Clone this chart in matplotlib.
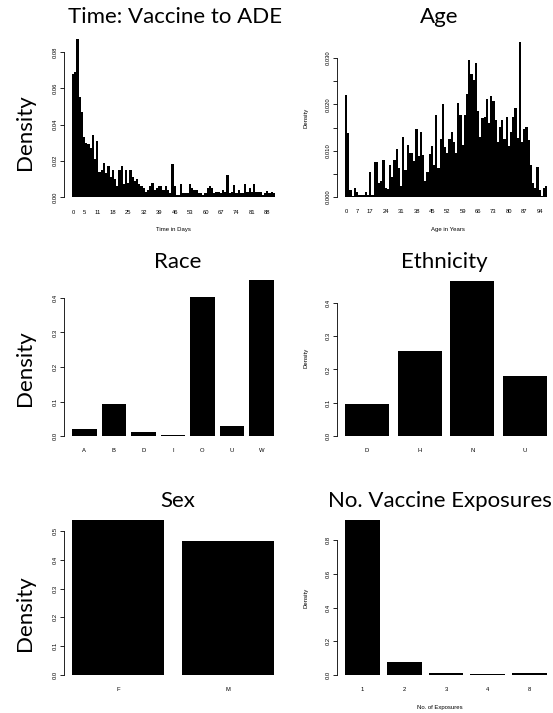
import matplotlib
matplotlib.use("Agg")
import matplotlib.pyplot as plt
import numpy as np

# ---- data ----
days = list(range(92))
time_density = [
    0.068, 0.069, 0.087, 0.055, 0.047, 0.033, 0.030, 0.029, 0.027, 0.034,
    0.021, 0.031, 0.014, 0.015, 0.019, 0.013, 0.017, 0.011, 0.015, 0.010,
    0.006, 0.015, 0.017, 0.007, 0.015, 0.008, 0.015, 0.011, 0.009, 0.010,
    0.007, 0.006, 0.005, 0.003, 0.004, 0.006, 0.008, 0.004, 0.005, 0.006,
    0.006, 0.004, 0.006, 0.004, 0.002, 0.018, 0.006, 0.001, 0.001, 0.007,
    0.002, 0.002, 0.002, 0.007, 0.005, 0.004, 0.004, 0.002, 0.002, 0.001,
    0.002, 0.005, 0.006, 0.005, 0.002, 0.003, 0.003, 0.002, 0.004, 0.003,
    0.012, 0.002, 0.003, 0.0065, 0.002, 0.004, 0.002, 0.002, 0.007, 0.003,
    0.005, 0.003, 0.007, 0.003, 0.003, 0.003, 0.001, 0.002, 0.0035, 0.002,
    0.003, 0.002,
]
time_labels = [0, 5, 11, 18, 25, 32, 39, 46, 53, 60, 67, 74, 81, 88]

ages = [0, 1, 2, 4, 5, 7, 9, 11, 13, 14, 16] + list(range(17, 98))
age_density = [
    0.022, 0.0138, 0.0015, 0.0003, 0.002, 0.001, 0.0005, 0.0005, 0.0005, 0.001,
    0.0005, 0.0053, 0.0005, 0.0075, 0.0075, 0.003, 0.0035, 0.008, 0.002, 0.0018,
    0.007, 0.0043, 0.008, 0.0103, 0.0062, 0.0023, 0.013, 0.0058, 0.0113, 0.0095,
    0.0095, 0.0078, 0.0147, 0.0088, 0.014, 0.009, 0.0035, 0.0053, 0.0093, 0.011,
    0.0068, 0.0178, 0.0063, 0.0125, 0.020, 0.0107, 0.0095, 0.0125, 0.014, 0.0118,
    0.0095, 0.0203, 0.0178, 0.0113, 0.0178, 0.0222, 0.0295, 0.0265, 0.0253, 0.029,
    0.0185, 0.013, 0.017, 0.0173, 0.0212, 0.016, 0.0218, 0.0208, 0.0167, 0.0118,
    0.0152, 0.0167, 0.0125, 0.0173, 0.011, 0.014, 0.0173, 0.0193, 0.0128, 0.0335,
    0.0118, 0.0147, 0.0152, 0.0122, 0.0068, 0.003, 0.002, 0.0065, 0.0015, 0.0002,
    0.002, 0.0023,
]
age_labels = [0, 7, 17, 24, 31, 38, 45, 52, 59, 66, 73, 80, 87, 94]

race = ["A", "B", "D", "I", "O", "U", "W"]
race_density = [0.021, 0.092, 0.011, 0.002, 0.404, 0.030, 0.452]

ethnicity = ["D", "H", "N", "U"]
ethnicity_density = [0.097, 0.257, 0.466, 0.181]

sex = ["F", "M"]
sex_density = [0.539, 0.466]

exposures = ["1", "2", "3", "4", "8"]
exposure_density = [0.918, 0.077, 0.014, 0.008, 0.013]

W, H = 553, 713
SMALL = "Liberation Sans"
BIG = "Lato"
TICK_FS = 4.2

fig = plt.figure(figsize=(W / 100, H / 100), dpi=100)


def r_barplot(bar_start, zero_px, y_unit, x_unit, heights, space, yticks, ylabels):
    """Mimic R's barplot(): 4% padding, axis line only between the end ticks."""
    n = len(heights)
    x_lo, x_hi = space, n * (1 + space)
    pad = 0.04 * (x_hi - x_lo)
    xlim = (x_lo - pad, x_hi + pad)
    top = max(heights)
    ylim = (-0.04 * top, 1.04 * top)
    left = bar_start - pad * x_unit
    bottom = zero_px - ylim[0] * y_unit
    ax = fig.add_axes([left / W, 1 - bottom / H,
                       (xlim[1] - xlim[0]) * x_unit / W,
                       (ylim[1] - ylim[0]) * y_unit / H])
    centers = space + 0.5 + np.arange(n) * (1 + space)
    ax.bar(centers, heights, width=1, color="black", linewidth=0)
    ax.set_xlim(xlim)
    ax.set_ylim(ylim)
    for s in ["top", "right", "bottom"]:
        ax.spines[s].set_visible(False)
    ax.spines["left"].set_bounds(yticks[0], yticks[-1])
    ax.spines["left"].set_linewidth(0.6)
    ax.set_yticks(yticks)
    ax.set_yticklabels(ylabels, rotation=90, va="center", family=SMALL, fontsize=TICK_FS)
    ax.tick_params(axis="y", length=3, width=0.6, pad=1.5)
    ax.tick_params(axis="x", length=0, pad=4.5)
    ax.patch.set_alpha(0)
    return ax, centers


def set_xlabels(ax, centers, names):
    ax.set_xticks(centers)
    ax.set_xticklabels(names, family=SMALL, fontsize=TICK_FS)


# Time: Vaccine to ADE
ax, c = r_barplot(72, 197, 1812.5, 2.207, time_density, 0,
                  np.arange(0, 0.081, 0.02), ["0.00", "0.02", "0.04", "0.06", "0.08"])
set_xlabels(ax, c[[days.index(d) for d in time_labels]], [str(d) for d in time_labels])
fig.text(173 / W, 1 - 229 / H, "Time in Days", family=SMALL, fontsize=4.3, ha="center", va="center")

# Age
ax, c = r_barplot(345, 197, 4633, 2.2, age_density, 0,
                  np.arange(0, 0.0301, 0.005),
                  ["0.000", "", "0.010", "", "0.020", "", "0.030"])
set_xlabels(ax, c[[ages.index(a) for a in age_labels]], [str(a) for a in age_labels])
fig.text(448 / W, 1 - 229 / H, "Age in Years", family=SMALL, fontsize=4.3, ha="center", va="center")

# Race
ax, c = r_barplot(72, 436, 345, 24.6, race_density, 0.2,
                  np.arange(0, 0.41, 0.1), ["0.0", "0.1", "0.2", "0.3", "0.4"])
set_xlabels(ax, c, race)

# Ethnicity
ax, c = r_barplot(345, 436, 332.5, 43.9, ethnicity_density, 0.2,
                  np.arange(0, 0.41, 0.1), ["0.0", "0.1", "0.2", "0.3", "0.4"])
set_xlabels(ax, c, ethnicity)

# Sex
ax, c = r_barplot(72, 675, 288, 91.7, sex_density, 0.2,
                  np.arange(0, 0.51, 0.1), ["0.0", "0.1", "0.2", "0.3", "0.4", "0.5"])
set_xlabels(ax, c, sex)

# No. Vaccine Exposures
ax, c = r_barplot(345, 675, 168.75, 34.8, exposure_density, 0.2,
                  np.arange(0, 0.81, 0.2), ["0.0", "0.2", "0.4", "0.6", "0.8"])
set_xlabels(ax, c, exposures)
fig.text(440 / W, 1 - 708 / H, "No. of Exposures", family=SMALL, fontsize=4.3, ha="center", va="center")

# titles and the large y labels
titles = [("Time: Vaccine to ADE", 175, 17), ("Age", 439, 17),
          ("Race", 178, 262), ("Ethnicity", 444, 262),
          ("Sex", 178, 501), ("No. Vaccine Exposures", 440, 501)]
for t, x, y in titles:
    fig.text(x / W, 1 - y / H, t, family=BIG, fontsize=16, ha="center", va="center")

for y in [132, 368, 613]:
    fig.text(25 / W, 1 - y / H, "Density", family=BIG, fontsize=16, rotation=90,
             ha="center", va="center")
for y in [118, 358, 598]:
    fig.text(306 / W, 1 - y / H, "Density", family=SMALL, fontsize=4.3, rotation=90,
             ha="center", va="center")

fig.savefig("out.png", dpi=100)
